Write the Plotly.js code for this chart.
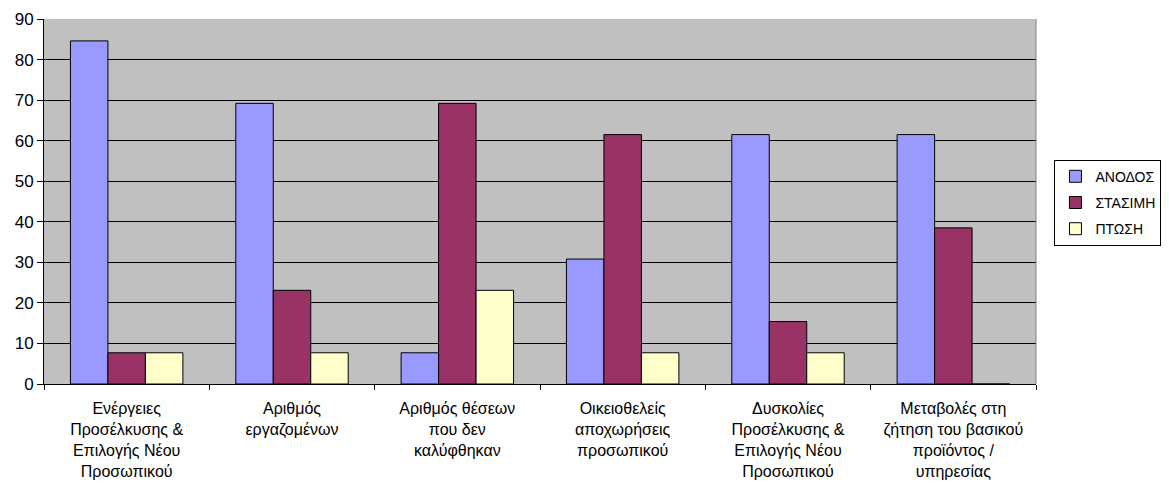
<!DOCTYPE html>
<html>
<head>
<meta charset="utf-8">
<script src="https://cdn.plot.ly/plotly-3.0.1.min.js"></script>
<style>html,body{margin:0;padding:0;background:#fff;}#chart{width:1169px;height:492px;}</style>
</head>
<body>
<div id="chart"></div>
<script>
var categories = [
  "Ενέργειες<br>Προσέλκυσης &<br>Επιλογής Νέου<br>Προσωπικού",
  "Αριθμός<br>εργαζομένων",
  "Αριθμός θέσεων<br>που δεν<br>καλύφθηκαν",
  "Οικειοθελείς<br>αποχωρήσεις<br>προσωπικού",
  "Δυσκολίες<br>Προσέλκυσης &<br>Επιλογής Νέου<br>Προσωπικού",
  "Μεταβολές στη<br>ζήτηση του βασικού<br>προϊόντος /<br>υπηρεσίας"
];
var seriesNames = ["ΑΝΟΔΟΣ", "ΣΤΑΣΙΜΗ", "ΠΤΩΣΗ"];
var anodos  = [84.6, 69.2, 7.7, 30.8, 61.5, 61.5];
var stasimi = [7.7, 23.1, 69.2, 61.5, 15.4, 38.5];
var ptosi   = [7.7, 7.7, 23.1, 7.7, 7.7, 0];
var colors = ["#9999FF", "#993366", "#FFFFCC"];
var values = [anodos, stasimi, ptosi];

var traces = values.map(function (v, i) {
  return {
    type: "bar",
    name: seriesNames[i],
    legendgroup: "g" + i,
    x: categories,
    y: v,
    marker: {color: colors[i], line: {color: "#000000", width: 1}},
    hoverinfo: "y"
  };
});

var layout = {
  width: 1169,
  height: 492,
  margin: {l: 44, r: 133, t: 19, b: 108},
  paper_bgcolor: "#FFFFFF",
  plot_bgcolor: "#C0C0C0",
  barmode: "group",
  bargap: 0.32,
  bargroupgap: 0,
  font: {family: "Liberation Sans, Arial, sans-serif", size: 16, color: "#000000"},
  xaxis: {
    type: "category",
    showline: true,
    linecolor: "#000000",
    linewidth: 1,
    ticks: "outside",
    tickson: "boundaries",
    ticklen: 5,
    tickcolor: "#000000",
    showgrid: false,
    tickfont: {size: 16},
    ticklabelstandoff: 10,
    automargin: false
  },
  yaxis: {
    range: [0, 90],
    dtick: 10,
    showline: true,
    linecolor: "#000000",
    linewidth: 1,
    ticks: "outside",
    ticklen: 6,
    tickcolor: "#000000",
    showgrid: true,
    gridcolor: "#000000",
    gridwidth: 1,
    zeroline: false,
    tickfont: {size: 17},
    automargin: false
  },
  legend: {
    xref: "container",
    yref: "container",
    x: 0.902,
    y: 0.588,
    xanchor: "left",
    yanchor: "middle",
    bgcolor: "#FFFFFF",
    bordercolor: "#000000",
    borderwidth: 1,
    font: {size: 14},
    traceorder: "grouped",
    tracegroupgap: 5,
    itemwidth: 30
  },
  shapes: [{
    type: "line", xref: "paper", yref: "paper",
    x0: 1, x1: 1, y0: 0, y1: 1,
    line: {color: "#808080", width: 1}
  }]
};

Plotly.newPlot("chart", traces, layout, {displayModeBar: false, staticPlot: true});
</script>
</body>
</html>
